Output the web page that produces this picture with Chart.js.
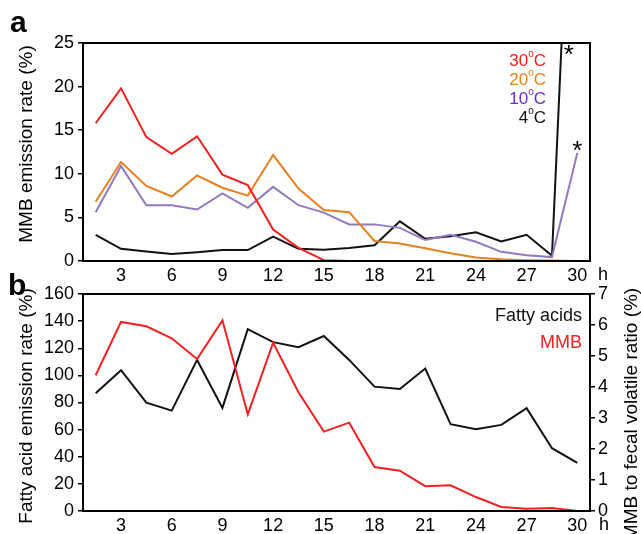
<!DOCTYPE html>
<html>
<head>
<meta charset="utf-8">
<script src="https://cdn.jsdelivr.net/npm/chart.js@4.4.1/dist/chart.umd.min.js"></script>
<style>
  body { margin: 0; background: #fff; }
  #wrap { position: relative; width: 641px; height: 534px; overflow: hidden; background: #fff; }
  canvas { position: absolute; left: 0; }
  #chartA { top: 0; }
  #chartB { top: 262px; }
</style>
</head>
<body>
<div id="wrap">
  <canvas id="chartA" width="641" height="290"></canvas>
  <canvas id="chartB" width="641" height="272"></canvas>
</div>
<script>
// sampling times (h)
const hours = [1.5, 3, 4.5, 6, 7.5, 9, 10.5, 12, 13.5, 15, 16.5, 18, 19.5, 21, 22.5, 24, 25.5, 27, 28.5, 30];
const hourTicks = [3, 6, 9, 12, 15, 18, 21, 24, 27, 30];

// panel a: MMB emission rate (%) per temperature
const tempLabels = ["30", "20", "10", "4"];
const mmb30 = [15.8, 19.8, 14.2, 12.3, 14.3, 9.9, 8.7, 3.6, 1.5, 0.1, 0, 0, 0, 0, 0, 0, 0, 0, 0, 0];
const mmb20 = [6.8, 11.35, 8.6, 7.4, 9.8, 8.4, 7.5, 12.15, 8.3, 5.85, 5.6, 2.3, 2.0, 1.45, 0.9, 0.4, 0.2, 0.1, 0.05, 0];
const mmb10 = [5.6, 10.9, 6.4, 6.4, 5.9, 7.75, 6.1, 8.5, 6.4, 5.55, 4.2, 4.2, 3.8, 2.4, 3.0, 2.2, 1.05, 0.65, 0.45, 12.4];
const mmb4 = [3.0, 1.4, 1.1, 0.8, 1.0, 1.25, 1.25, 2.8, 1.4, 1.3, 1.5, 1.8, 4.55, 2.55, 2.85, 3.3, 2.25, 3.0, 0.6, 65];
const ticksA = [0, 5, 10, 15, 20, 25];

// panel b: fatty acid emission rate (%) and MMB to fecal volatile ratio (%)
const fattyAcids = [86.9, 103.8, 79.9, 74, 111.4, 76, 134.1, 124.5, 120.8, 129, 111.4, 91.7, 90, 105, 64, 60.3, 63.5, 75.8, 46.3, 35.4];
const mmbRatio = [4.38, 6.1, 5.96, 5.57, 4.9, 6.15, 3.12, 5.43, 3.83, 2.56, 2.85, 1.42, 1.3, 0.8, 0.83, 0.45, 0.13, 0.07, 0.1, 0];
const ticksBLeft = [0, 20, 40, 60, 80, 100, 120, 140, 160];
const ticksBRight = [0, 1, 2, 3, 4, 5, 6, 7];

const FONT = "'Liberation Sans', Arial, sans-serif";
Chart.defaults.font.family = FONT;
Chart.defaults.font.size = 18;
Chart.defaults.color = '#000';

const RED = '#f51f1f', ORANGE = '#e8801e', PURPLE = '#9379bd', PURPLE_TXT = '#6a2fc4', BLACK = '#111';

function pts(values) {
  return values.map((v, i) => ({ x: hours[i], y: v }));
}

function line(label, values, color, axis) {
  return {
    label, data: pts(values), borderColor: color, borderWidth: 2,
    pointRadius: 0, tension: 0, fill: false, yAxisID: axis || 'y'
  };
}

function xAxis(height) {
  return {
    type: 'linear', min: 0.75, max: 30.75,
    afterBuildTicks: s => { s.ticks = hourTicks.map(v => ({ value: v })); },
    afterFit: s => { s.height = height; },
    grid: { display: false },
    border: { color: '#000', width: 2 },
    ticks: { padding: -4, maxRotation: 0, autoSkip: false }
  };
}

function yAxis(values, width, position) {
  return {
    type: 'linear', position: position || 'left',
    min: values[0], max: values[values.length - 1],
    afterBuildTicks: s => { s.ticks = values.map(v => ({ value: v })); },
    afterFit: s => { s.width = width; },
    grid: { drawOnChartArea: false, drawTicks: true, tickLength: 5, color: '#000', lineWidth: 1.5 },
    border: { color: '#000', width: 2 },
    ticks: { padding: 4 }
  };
}

function text(ctx, str, x, y, opts) {
  ctx.save();
  ctx.font = opts.font || `18px ${FONT}`;
  ctx.fillStyle = opts.color || '#000';
  ctx.textAlign = opts.align || 'left';
  ctx.textBaseline = opts.baseline || 'middle';
  ctx.translate(x, y);
  if (opts.rotate) ctx.rotate(opts.rotate);
  ctx.fillText(str, 0, 0);
  ctx.restore();
}

// "30°C" with a small raised o, right aligned at xRight
function degLabel(ctx, num, xRight, y, color) {
  ctx.save();
  ctx.fillStyle = color;
  ctx.textBaseline = 'middle';
  ctx.textAlign = 'left';
  ctx.font = `17px ${FONT}`;
  const wN = ctx.measureText(num).width;
  const wC = ctx.measureText('C').width;
  ctx.font = `10px ${FONT}`;
  const wO = ctx.measureText('o').width;
  let x = xRight - wC - wO - wN;
  ctx.font = `17px ${FONT}`;
  ctx.fillText(num, x, y);
  ctx.font = `10px ${FONT}`;
  ctx.fillText('o', x + wN, y - 6.5);
  ctx.font = `17px ${FONT}`;
  ctx.fillText('C', x + wN + wO, y);
  ctx.restore();
}

const frame = {
  id: 'frame',
  afterDatasetsDraw(chart) {
    const { ctx, chartArea: a } = chart;
    ctx.save();
    ctx.strokeStyle = '#000';
    ctx.lineWidth = 2;
    ctx.strokeRect(a.left, a.top, a.right - a.left, a.bottom - a.top);
    ctx.restore();
  }
};

const decorA = {
  id: 'decorA',
  afterDraw(chart) {
    const { ctx, chartArea: a, scales } = chart;
    text(ctx, 'a', 10, 32, { font: `bold 30px ${FONT}`, baseline: 'alphabetic' });
    text(ctx, 'MMB emission rate (%)', 26.4, 144, { font: `19px ${FONT}`, align: 'center', rotate: -Math.PI / 2 });
    text(ctx, 'h', 598, a.bottom + 14, {});
    const colors = [RED, ORANGE, PURPLE_TXT, BLACK];
    tempLabels.forEach((t, i) => degLabel(ctx, t, 546, 61 + i * 19, colors[i]));
    const xs = scales.x, ys = scales.y;
    text(ctx, '*', xs.getPixelForValue(29.5), a.top + 20, { font: `26px ${FONT}`, align: 'center', baseline: 'alphabetic' });
    text(ctx, '*', xs.getPixelForValue(30), ys.getPixelForValue(mmb10[mmb10.length - 1]) + 6, { font: `26px ${FONT}`, align: 'center', baseline: 'alphabetic' });
  }
};

const decorB = {
  id: 'decorB',
  afterDraw(chart) {
    const { ctx, chartArea: a } = chart;
    text(ctx, 'b', 8, 33, { font: `bold 30px ${FONT}`, baseline: 'alphabetic' });
    text(ctx, 'Fatty acid emission rate (%)', 26.4, 144, { font: `19px ${FONT}`, align: 'center', rotate: -Math.PI / 2 });
    text(ctx, 'MMB to fecal volatile ratio (%)', 631.4, 152, { font: `19px ${FONT}`, align: 'center', rotate: -Math.PI / 2 });
    text(ctx, 'h', 599, a.bottom + 14, {});
    text(ctx, 'Fatty acids', 582, 54, { align: 'right', color: BLACK });
    text(ctx, 'MMB', 582, 80.7, { align: 'right', color: RED });
  }
};

new Chart(document.getElementById('chartA'), {
  type: 'line',
  data: {
    datasets: [
      line('30°C', mmb30, RED),
      line('20°C', mmb20, ORANGE),
      line('10°C', mmb10, PURPLE),
      line('4°C', mmb4, BLACK)
    ]
  },
  options: {
    responsive: false, animation: false,
    layout: { padding: { top: 43, right: 51, left: 0, bottom: 0 } },
    plugins: { legend: { display: false }, tooltip: { enabled: false } },
    scales: { x: xAxis(29), y: yAxis(ticksA, 83) }
  },
  plugins: [frame, decorA]
});

new Chart(document.getElementById('chartB'), {
  type: 'line',
  data: {
    datasets: [
      line('MMB', mmbRatio, RED, 'y1'),
      line('Fatty acids', fattyAcids, BLACK, 'y')
    ]
  },
  options: {
    responsive: false, animation: false,
    layout: { padding: { top: 32, right: 0, left: 0, bottom: 0 } },
    plugins: { legend: { display: false }, tooltip: { enabled: false } },
    scales: {
      x: xAxis(23),
      y: yAxis(ticksBLeft, 83),
      y1: Object.assign(yAxis(ticksBRight, 51, 'right'), { ticks: { padding: 3 } })
    }
  },
  plugins: [frame, decorB]
});
</script>
</body>
</html>
